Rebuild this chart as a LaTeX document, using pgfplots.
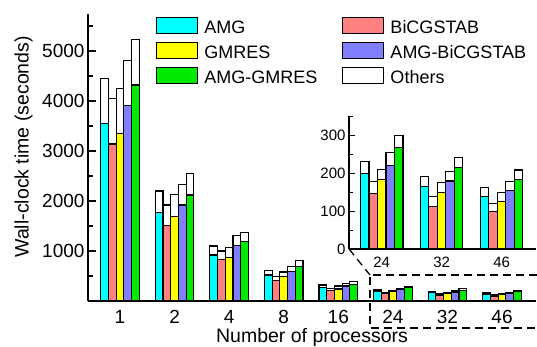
\documentclass[border=0pt]{standalone}
\usepackage{fontspec}
\setmainfont{Liberation Sans}
\usepackage{pgfplots}
\usepackage{pgfplotstable}
\pgfplotsset{compat=1.18}
\definecolor{cAMG}{RGB}{0,255,255}
\definecolor{cBICG}{RGB}{255,128,128}
\definecolor{cGMRES}{RGB}{255,255,0}
\definecolor{cABICG}{RGB}{128,128,255}
\definecolor{cAGMRES}{RGB}{0,235,0}

\pgfplotstableread{
x amg amgT bicg bicgT gmres gmresT abicg abicgT agmres agmresT
0 3550 4450 3140 4050 3350 4250 3910 4810 4320 5235
1 1775 2200 1505 1920 1690 2135 1920 2330 2120 2555
2 920 1100 835 1000 875 1065 1105 1305 1185 1365
3 520 605 410 495 487 580 585 688 685 803
4 270 320 210 250 240 300 300 345 335 383
5 199 230 145 177 182 210 221 253 268 298
6 164 190 113 139 149 174 179 203 215 241
7 139 161 98 120 125 148 153 177 184 208
}\maindata

\pgfplotstableread{
x amg amgT bicg bicgT gmres gmresT abicg abicgT agmres agmresT
0 199 230 145 177 182 210 221 253 268 298
1 164 190 113 139 149 174 179 203 215 241
2 139 161 98 120 125 148 153 177 184 208
}\insetdata

\pgfplotsset{
  barS/.style={ybar, draw=black, line width=1.1pt, forget plot},
}

\begin{document}
\begin{tikzpicture}[x=1pt,y=1pt]
\useasboundingbox (0,0) rectangle (537,347);
\begin{axis}[
  at={(88pt,46pt)}, anchor=south west,
  scale only axis, width=448pt, height=287pt,
  xmin=-0.586, xmax=7.623, ymin=0, ymax=5740,
  axis x line=bottom, axis y line=left,
  axis line style={line width=1.5pt, -},
  xtick={0,...,7}, xticklabels={1,2,4,8,16,24,32,46},
  x tick style={draw=none},
  ytick={1000,2000,3000,4000,5000},
  minor ytick={500,1500,2500,3500,4500,5500},
  tick align=inside,
  major tick length=8pt, minor tick length=4.5pt,
  y tick style={line width=1.2pt, black},
  /pgf/number format/assume math mode=true,
  /pgf/number format/1000 sep={},
  tick label style={font=\fontsize{19}{22}\selectfont},
  xticklabel style={yshift=-6pt},
  xlabel={Number of processors},
  ylabel={Wall-clock time (seconds)},
  label style={font=\fontsize{19.5}{23}\selectfont},
  xlabel style={at={(axis description cs:0.5,-0.146)}, anchor=base},
  ylabel style={at={(axis description cs:-0.144,0.537)}, anchor=center},
  legend columns=2,
  legend cell align=left,
  legend image code/.code={\draw[line width=1.1pt, draw=black, #1] (0pt,0pt) rectangle (41pt,16pt);},
  legend style={at={(axis description cs:0.152,0.99)}, anchor=north west,
    draw=none, fill=none, inner sep=0pt,
    font=\fontsize{18}{20}\selectfont, row sep=5.2pt,
    cells={anchor=base west},
    nodes={inner xsep=6pt, inner ysep=0pt, text height=13pt, text depth=3pt},
    /tikz/every even column/.append style={column sep=19pt}},
]
\addlegendimage{fill=cAMG}\addlegendentry{AMG}
\addlegendimage{fill=cBICG}\addlegendentry{BiCGSTAB}
\addlegendimage{fill=cGMRES}\addlegendentry{GMRES}
\addlegendimage{fill=cABICG}\addlegendentry{AMG-BiCGSTAB}
\addlegendimage{fill=cAGMRES}\addlegendentry{AMG-GMRES}
\addlegendimage{fill=white}\addlegendentry{Others}

\addplot[barS, bar width=7.7pt, bar shift=-15.4pt, fill=white] table[x=x,y=amgT]{\maindata};
\addplot[barS, bar width=7.7pt, bar shift=-15.4pt, fill=cAMG] table[x=x,y=amg]{\maindata};
\addplot[barS, bar width=7.7pt, bar shift=-7.7pt, fill=white] table[x=x,y=bicgT]{\maindata};
\addplot[barS, bar width=7.7pt, bar shift=-7.7pt, fill=cBICG] table[x=x,y=bicg]{\maindata};
\addplot[barS, bar width=7.7pt, bar shift=0pt, fill=white] table[x=x,y=gmresT]{\maindata};
\addplot[barS, bar width=7.7pt, bar shift=0pt, fill=cGMRES] table[x=x,y=gmres]{\maindata};
\addplot[barS, bar width=7.7pt, bar shift=7.7pt, fill=white] table[x=x,y=abicgT]{\maindata};
\addplot[barS, bar width=7.7pt, bar shift=7.7pt, fill=cABICG] table[x=x,y=abicg]{\maindata};
\addplot[barS, bar width=7.7pt, bar shift=15.4pt, fill=white] table[x=x,y=agmresT]{\maindata};
\addplot[barS, bar width=7.7pt, bar shift=15.4pt, fill=cAGMRES] table[x=x,y=agmres]{\maindata};
\end{axis}

\begin{axis}[
  at={(349pt,98pt)}, anchor=south west,
  scale only axis, width=187pt, height=133.3pt,
  xmin=-0.545, xmax=2.572, ymin=0, ymax=351,
  axis x line=bottom, axis y line=left,
  axis line style={line width=1.2pt, -},
  xtick={0,1,2}, xticklabels={24,32,46},
  x tick style={draw=none},
  ytick={0,100,200,300},
  minor ytick={50,150,250,350},
  tick align=inside,
  major tick length=6pt, minor tick length=3.5pt,
  y tick style={line width=1pt, black},
  /pgf/number format/assume math mode=true,
  tick label style={font=\fontsize{15}{18}\selectfont},
  xticklabel style={yshift=-4pt},
]
\addplot[barS, bar width=8.5pt, bar shift=-17pt, fill=white] table[x=x,y=amgT]{\insetdata};
\addplot[barS, bar width=8.5pt, bar shift=-17pt, fill=cAMG] table[x=x,y=amg]{\insetdata};
\addplot[barS, bar width=8.5pt, bar shift=-8.5pt, fill=white] table[x=x,y=bicgT]{\insetdata};
\addplot[barS, bar width=8.5pt, bar shift=-8.5pt, fill=cBICG] table[x=x,y=bicg]{\insetdata};
\addplot[barS, bar width=8.5pt, bar shift=0pt, fill=white] table[x=x,y=gmresT]{\insetdata};
\addplot[barS, bar width=8.5pt, bar shift=0pt, fill=cGMRES] table[x=x,y=gmres]{\insetdata};
\addplot[barS, bar width=8.5pt, bar shift=8.5pt, fill=white] table[x=x,y=abicgT]{\insetdata};
\addplot[barS, bar width=8.5pt, bar shift=8.5pt, fill=cABICG] table[x=x,y=abicg]{\insetdata};
\addplot[barS, bar width=8.5pt, bar shift=17pt, fill=white] table[x=x,y=agmresT]{\insetdata};
\addplot[barS, bar width=8.5pt, bar shift=17pt, fill=cAGMRES] table[x=x,y=agmres]{\insetdata};
\end{axis}

\draw[line width=1.3pt, dash pattern=on 8pt off 5pt] (349,98) -- (370,72);
\draw[line width=1.3pt, dash pattern=on 8pt off 5pt] (537,72) -- (370,72) -- (370,19) -- (537,19);
\end{tikzpicture}
\end{document}
